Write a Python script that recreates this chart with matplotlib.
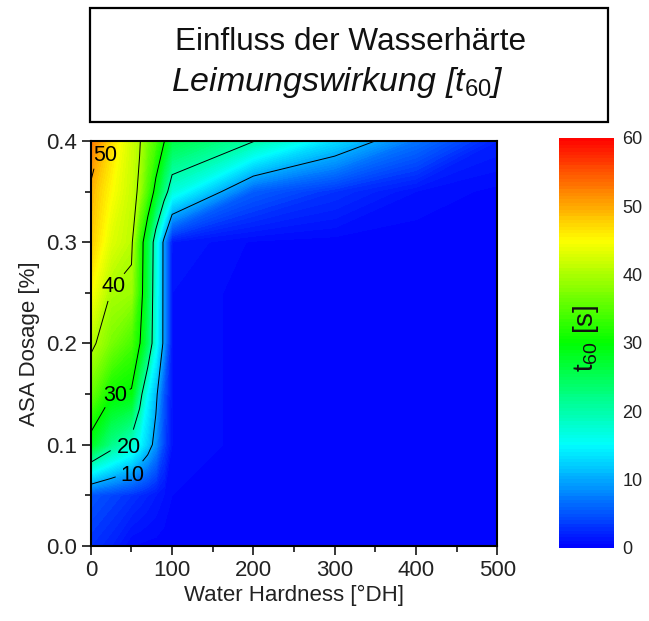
import matplotlib
matplotlib.use("Agg")
import matplotlib.pyplot as plt
import numpy as np
from matplotlib.colors import LinearSegmentedColormap
from matplotlib.patches import Rectangle
from matplotlib.ticker import MultipleLocator

plt.rcParams['font.family'] = ['Liberation Sans', 'DejaVu Sans']
plt.rcParams['mathtext.fontset'] = 'custom'
plt.rcParams['mathtext.rm'] = 'Liberation Sans'
plt.rcParams['mathtext.it'] = 'Liberation Sans:italic'

# water hardness [°DH] and ASA dosage [%] grid
hardness = [0, 25, 50, 60, 70, 80, 90, 100, 200, 300, 400, 500]
dosage = [0, 0.05, 0.1, 0.15, 0.2, 0.25, 0.3, 0.35, 0.4]

# t60 [s], one row per dosage
t60 = [
    [3, 2, 0.5, 0.4, 0.3, 0.3, 0.2, 0.2, 0.1, 0.1, 0.1, 0.1],
    [5, 4, 3, 2.5, 2, 1.5, 1, 0.5, 0.2, 0.1, 0.1, 0.1],
    [28, 22, 18, 15, 12, 8.5, 4, 1, 0.2, 0.1, 0.1, 0.1],
    [36, 30.5, 29.5, 22, 15, 11, 5, 1, 0.2, 0.1, 0.1, 0.1],
    [41, 37, 34, 30.3, 24.5, 16, 9, 1, 0.2, 0.1, 0.1, 0.1],
    [45, 39.8, 39, 32.5, 25.5, 16.5, 9, 1, 0.2, 0.1, 0.1, 0.1],
    [48, 43, 40.8, 33, 26, 17, 9, 1.5, 0.4, 0.2, 0.1, 0.1],
    [49.2, 45, 41.5, 39.3, 34, 28.5, 22.5, 17, 5.5, 3, 1, 0.3],
    [53, 47, 42, 40.3, 37, 34, 30.3, 26, 20.2, 13, 7, 2],
]

line_levels = [10, 20, 30, 40, 50]
label_pos = [(50.5, 0.070), (47, 0.097), (28.5, 0.152), (26, 0.258), (18, 0.386)]
cbar_ticks = [0, 10, 20, 30, 40, 50, 60]

cmap = LinearSegmentedColormap.from_list(
    'origin_rainbow',
    [(0, 0, 1), (0, 1, 1), (0, 1, 0), (1, 1, 0), (1, 0, 0)])

X, Y = np.meshgrid(hardness, dosage)
Z = np.array(t60)

fig = plt.figure(figsize=(6.49, 6.21), dpi=100)
ax = fig.add_axes([0.140, 0.121, 0.626, 0.652])

cf = ax.contourf(X, Y, Z, levels=np.linspace(0, 60, 121), cmap=cmap, vmin=0, vmax=60)
cs = ax.contour(X, Y, Z, levels=line_levels, colors='black', linewidths=0.7)
labels = ax.clabel(cs, fmt='%d', fontsize=15.5, inline=True, inline_spacing=4,
                   manual=label_pos)
for t in labels:
    t.set_rotation(0)
    if t.get_text() == '50':
        t.set_position(label_pos[-1])
    if t.get_text() == '20':
        t.set_position(label_pos[1])
    if t.get_text() == '10':
        t.set_position(label_pos[0])

ax.set_xlim(0, 500)
ax.set_ylim(0, 0.4)
ax.xaxis.set_major_locator(MultipleLocator(100))
ax.xaxis.set_minor_locator(MultipleLocator(50))
ax.yaxis.set_major_locator(MultipleLocator(0.1))
ax.yaxis.set_minor_locator(MultipleLocator(0.05))
ax.yaxis.set_major_formatter(matplotlib.ticker.FormatStrFormatter('%.1f'))
ax.tick_params(which='major', direction='out', length=6.5, width=1.1,
               labelsize=16, colors='black', labelcolor='#222222')
ax.tick_params(which='minor', direction='out', length=4.5, width=1.1)
for s in ax.spines.values():
    s.set_linewidth(1.5)
ax.set_xlabel('Water Hardness [°DH]', fontsize=16, color='#222222', labelpad=3)
ax.set_ylabel('ASA Dosage [%]', fontsize=16, color='#222222', labelpad=4)

cax = fig.add_axes([0.861, 0.118, 0.085, 0.660])
cb = fig.colorbar(cf, cax=cax, ticks=cbar_ticks)
cb.outline.set_visible(False)
cax.tick_params(length=0, labelsize=13, pad=6, labelcolor='#222222')
cax.text(0.5, 0.51, 't$_{60}$ [s]', rotation=90, transform=cax.transAxes,
         ha='center', va='center', fontsize=20, color='#111111')

fig.patches.append(Rectangle((90 / 649, 1 - 122 / 621), 518 / 649, 114 / 621,
                             transform=fig.transFigure, fill=False,
                             edgecolor='black', linewidth=1.6))
fig.text(351 / 649, 1 - 42 / 621, 'Einfluss der Wasserhärte', ha='center',
         va='center', fontsize=22.7, color='#111111')
fig.text(337 / 649, 1 - 83 / 621, r'Leimungswirkung [t$_{60}$]', ha='center',
         va='center', fontsize=24.5, style='italic', color='#111111')

fig.savefig('out.png', dpi=100)
